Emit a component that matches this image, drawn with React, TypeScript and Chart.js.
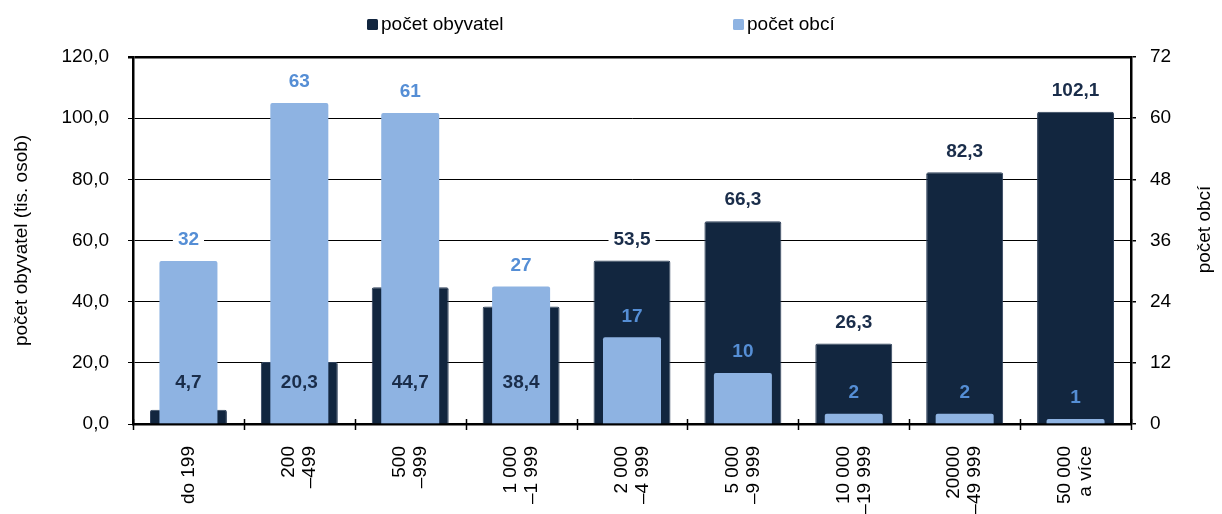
import React, { useEffect, useRef } from "react";
import { Chart, registerables } from "chart.js";

Chart.register(...registerables);

const categories: string[][] = [
  ["do 199"],
  ["200", "–499"],
  ["500", "–999"],
  ["1 000", "–1 999"],
  ["2 000", "–4 999"],
  ["5 000", "–9 999"],
  ["10 000", "–19 999"],
  ["20000", "–49 999"],
  ["50 000", "a více"],
];
const populationValues = [4.7, 20.3, 44.7, 38.4, 53.5, 66.3, 26.3, 82.3, 102.1];
const municipalityCounts = [32, 63, 61, 27, 17, 10, 2, 2, 1];
const seriesNames = ["počet obyvatel", "počet obcí"];
const leftAxisTitle = "počet obyvatel (tis. osob)";
const rightAxisTitle = "počet obcí";
const leftAxisMax = 120;
const leftAxisStep = 20;
const rightAxisMax = 72;
const rightAxisStep = 12;
const coveredLabelLevel = 13.5;

const NAVY = "#12263f";
const LIGHT = "#8eb3e2";
const NAVY_TEXT = "#1a2d4a";
const BLUE_TEXT = "#558ed5";
const FONT = '"Liberation Sans", Arial, sans-serif';

const fmt1 = (v: number) => v.toFixed(1).replace(".", ",");

const overlayPlugin = {
  id: "overlay",
  afterDatasetsDraw(chart: any) {
    const ctx = chart.ctx as CanvasRenderingContext2D;
    const yl = chart.scales.yLeft;
    const navyMeta = chart.getDatasetMeta(0);
    const lightMeta = chart.getDatasetMeta(1);
    ctx.save();
    ctx.font = `bold 19px ${FONT}`;
    ctx.textAlign = "center";
    ctx.textBaseline = "middle";
    const drawLabel = (text: string, x: number, y: number, color: string, bg: boolean) => {
      if (bg) {
        const w = ctx.measureText(text).width + 10;
        ctx.fillStyle = "#ffffff";
        ctx.fillRect(x - w / 2, y - 11, w, 22);
      }
      ctx.fillStyle = color;
      ctx.fillText(text, x, y);
    };
    for (let i = 0; i < categories.length; i++) {
      const nb = navyMeta.data[i] as any;
      const lb = lightMeta.data[i] as any;
      const navyHidden = nb.y > lb.y;
      if (navyHidden) {
        drawLabel(fmt1(populationValues[i]), nb.x, yl.getPixelForValue(coveredLabelLevel), NAVY_TEXT, false);
      } else {
        drawLabel(fmt1(populationValues[i]), nb.x, nb.y - 21, NAVY_TEXT, true);
      }
      const ly = lb.y - 21;
      drawLabel(String(municipalityCounts[i]), lb.x, ly, BLUE_TEXT, ly < nb.y);
    }
    ctx.restore();
  },
  afterDraw(chart: any) {
    const ctx = chart.ctx as CanvasRenderingContext2D;
    const area = chart.chartArea;
    const xs = chart.scales.x;
    ctx.save();
    // x-axis cross ticks at category boundaries
    ctx.strokeStyle = "#000";
    ctx.lineWidth = 1.5;
    const n = categories.length;
    const step = (area.right - area.left) / n;
    for (let i = 0; i <= n; i++) {
      const x = Math.round(area.left + i * step) + 0.5;
      ctx.beginPath();
      ctx.moveTo(x, area.bottom - 5);
      ctx.lineTo(x, area.bottom + 6);
      ctx.stroke();
    }
    // x-axis labels, rotated, reading bottom-to-top, block centred on the category
    ctx.font = `19px ${FONT}`;
    ctx.fillStyle = "#000";
    ctx.textAlign = "right";
    ctx.textBaseline = "middle";
    const lh = 21;
    for (let i = 0; i < n; i++) {
      const lines = categories[i];
      const cx = xs.getPixelForValue(i);
      ctx.save();
      ctx.translate(cx, area.bottom + 22);
      ctx.rotate(-Math.PI / 2);
      lines.forEach((t, j) => {
        const off = (j - (lines.length - 1) / 2) * lh;
        ctx.fillText(t, 0, off);
      });
      ctx.restore();
    }
    // axis titles
    const cy = (area.top + area.bottom) / 2;
    ctx.textAlign = "center";
    ctx.save();
    ctx.translate(14, cy);
    ctx.rotate(-Math.PI / 2);
    ctx.fillText(leftAxisTitle, 0, 0);
    ctx.restore();
    ctx.save();
    ctx.translate(chart.width - 9, cy - 11);
    ctx.rotate(-Math.PI / 2);
    ctx.fillText(rightAxisTitle, 0, 0);
    ctx.restore();
    // legend
    const items = [
      { text: seriesNames[0], color: NAVY, x: 359 },
      { text: seriesNames[1], color: LIGHT, x: 725 },
    ];
    ctx.textAlign = "left";
    items.forEach((it) => {
      ctx.fillStyle = it.color;
      ctx.beginPath();
      (ctx as any).roundRect ? (ctx as any).roundRect(it.x, 11, 11, 11, 1.5) : ctx.rect(it.x, 11, 11, 11);
      ctx.fill();
      ctx.fillStyle = "#000";
      ctx.fillText(it.text, it.x + 14, 17);
    });
    ctx.restore();
  },
};

export default function App() {
  const ref = useRef<HTMLCanvasElement | null>(null);
  useEffect(() => {
    if (!ref.current) return;
    const chart = new Chart(ref.current, {
      type: "bar",
      data: {
        labels: categories.map((c) => c.join(" ")),
        datasets: [
          {
            label: seriesNames[0],
            data: populationValues,
            yAxisID: "yLeft",
            backgroundColor: NAVY,
            borderColor: "#2e405a",
            borderWidth: 1,
            borderRadius: 2,
            borderSkipped: "bottom",
            grouped: false,
            categoryPercentage: 1,
            barPercentage: 0.694,
            order: 2,
          },
          {
            label: seriesNames[1],
            data: municipalityCounts,
            yAxisID: "yRight",
            backgroundColor: LIGHT,
            borderWidth: 0,
            borderRadius: 2,
            borderSkipped: "bottom",
            grouped: false,
            categoryPercentage: 1,
            barPercentage: 0.523,
            order: 1,
          },
        ],
      },
      options: {
        responsive: false,
        animation: false,
        layout: { padding: { top: 49, left: 0, right: 0, bottom: 0 } },
        plugins: {
          legend: { display: false },
          tooltip: { enabled: false },
        },
        scales: {
          x: {
            type: "category",
            offset: true,
            grid: { display: false, drawTicks: false },
            border: { display: true, color: "#000", width: 2.5 },
            ticks: { display: false },
            afterFit: (s: any) => {
              s.height = 90;
            },
          },
          yLeft: {
            type: "linear",
            position: "left",
            min: 0,
            max: leftAxisMax,
            ticks: {
              stepSize: leftAxisStep,
              color: "#000",
              font: { family: FONT, size: 19 },
              padding: 19,
              callback: (v: any) => fmt1(Number(v)),
            },
            grid: {
              color: "#000",
              lineWidth: (c: any) => (c.tick && c.tick.value === leftAxisMax ? 2.5 : 1),
              tickLength: 5,
              drawTicks: true,
            },
            border: { display: true, color: "#000", width: 2.5 },
            afterFit: (s: any) => {
              s.width = 125;
            },
          },
          yRight: {
            type: "linear",
            position: "right",
            min: 0,
            max: rightAxisMax,
            ticks: {
              stepSize: rightAxisStep,
              color: "#000",
              font: { family: FONT, size: 19 },
              padding: 14,
            },
            grid: {
              drawOnChartArea: false,
              color: "#000",
              lineWidth: 1.5,
              tickLength: 5,
              drawTicks: true,
            },
            border: { display: true, color: "#000", width: 2.5 },
            afterFit: (s: any) => {
              s.width = 83;
            },
          },
        },
      },
      plugins: [overlayPlugin],
    });
    return () => chart.destroy();
  }, []);
  return (
    <div style={{ width: 1206, height: 506 }}>
      <canvas ref={ref} width={1206} height={506} style={{ display: "block", width: 1206, height: 506 }} />
    </div>
  );
}
